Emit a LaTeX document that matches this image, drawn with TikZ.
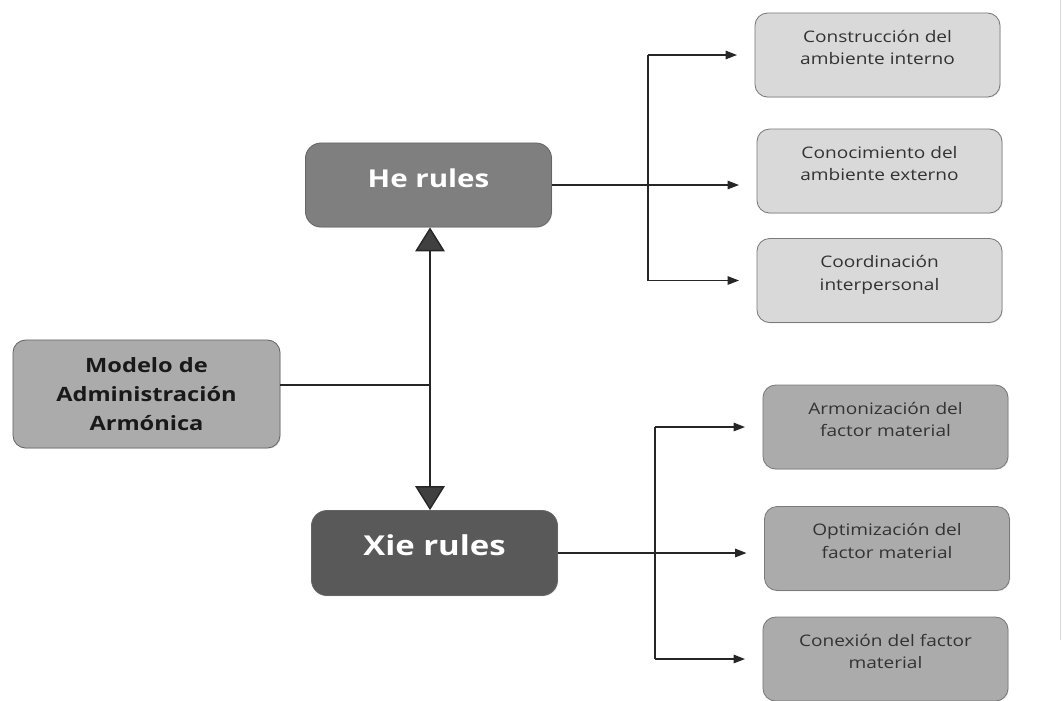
\documentclass[tikz,border=0pt]{standalone}
\usepackage{fontspec}
\setmainfont[FakeStretch=1.2]{Open Sans}
\usetikzlibrary{arrows.meta,shadows,calc}
\definecolor{boxlight}{HTML}{D9D9D9}
\definecolor{boxmid}{HTML}{ABABAB}
\definecolor{boxhe}{HTML}{7F7F7F}
\definecolor{boxxie}{HTML}{595959}
\definecolor{boxline}{HTML}{7A7A7A}
\definecolor{boxtext}{HTML}{333333}

\begin{document}
\begin{tikzpicture}[x=0.025cm,y=-0.025cm,
        box/.style={draw=boxline,line width=0.6pt,rounded corners=9pt,align=center,inner sep=0pt,
            minimum width=6.125cm,minimum height=2.1cm,text=boxtext,
            drop shadow={opacity=0.18,shadow xshift=0.6pt,shadow yshift=-0.6pt}},
        smallbox/.style={box,font=\fontsize{11.3}{16}\selectfont,text height=26pt,text depth=11.9pt},
        envbox/.style={smallbox,fill=boxlight},
        matbox/.style={smallbox,fill=boxmid},
        rulebox/.style={box,draw=boxhe!80!black,text=white,minimum width=6.15cm,rounded corners=11pt,
            text height=13pt,text depth=9.1pt},
        link/.style={line width=0.8pt,black!85},
        tip/.style={link,-{Triangle[length=8pt,width=6pt]},shorten >=12.5pt},
        bigtip/.tip={Triangle[length=17pt,width=21pt,fill=black!75]}]
        \useasboundingbox (0,0) rectangle (1062,700);
        \draw[black!15,line width=0.5pt] (1060,0) -- (1060,640);
        \node[box,fill=boxmid,draw=black!60,minimum width=6.675cm,minimum height=2.7cm,text=black!90,
            font=\fontsize{14}{20.5}\bfseries] (modelo) at (146.5,394) {Modelo de\\Administración\\Armónica};
        \node[rulebox,fill=boxhe,font=\fontsize{17.5}{20}\bfseries] (he) at (428.5,185) {He rules};
        \node[rulebox,fill=boxxie,minimum height=2.125cm,font=\fontsize{19.5}{22}\bfseries] (xie) at (434.5,553) {Xie rules};
        \node[envbox] (constr) at (877.5,55) {Construcción del\\ambiente interno};
        \node[envbox] (conoc) at (879.5,171) {Conocimiento del\\ambiente externo};
        \node[envbox] (coord) at (879.5,280.5) {Coordinación\\interpersonal};
        \node[matbox] (armon) at (885.5,427) {Armonización del\\factor material};
        \node[matbox] (optim) at (887,548.5) {Optimización del\\factor material};
        \node[matbox] (conex) at (885.5,659) {Conexión del factor\\material};
        \coordinate (trunk) at (430,385);
        \coordinate (hehub) at (648,185);
        \coordinate (xiehub) at (655,553);
        \draw[link] (trunk -| modelo.east) -- (trunk);
        \draw[link,line width=1pt,bigtip-bigtip] (trunk |- he.south) -- (trunk |- xie.north);
        \draw[link] (he.east) -- (hehub);
        \draw[link] (hehub |- constr) -- (hehub |- coord);
        \draw[tip] (hehub |- constr) -- (constr.west);
        \draw[tip] (hehub) -- (hehub -| conoc.west);
        \draw[tip] (hehub |- coord) -- (coord.west);
        \draw[link] (xie.east) -- (xiehub);
        \draw[link] (xiehub |- armon) -- (xiehub |- conex);
        \draw[tip] (xiehub |- armon) -- (armon.west);
        \draw[tip] (xiehub) -- (xiehub -| optim.west);
        \draw[tip] (xiehub |- conex) -- (conex.west);
    \end{tikzpicture}
\end{document}
